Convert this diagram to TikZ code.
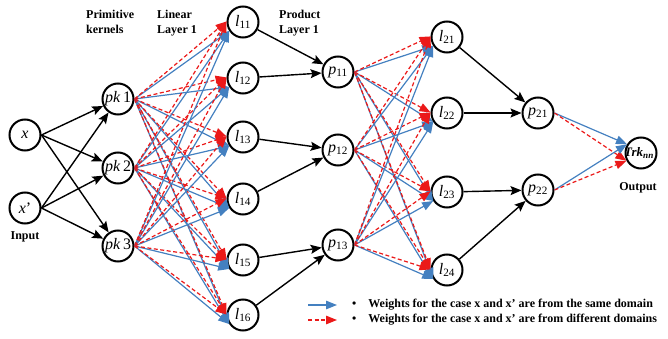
\documentclass[tikz,border=0pt]{standalone}
\usepackage{fontspec}
\setmainfont{Liberation Serif}
\usetikzlibrary{arrows.meta}
\definecolor{wblue}{RGB}{68,128,192}
\definecolor{wred}{RGB}{235,25,25}
\newcommand\nsub[2]{\textit{#1}\textsubscript{\upshape #2}}
\tikzset{
 neuron/.style={circle,draw=black,line width=2pt,minimum size=31pt,inner sep=0pt,font=\fontsize{16}{16}\selectfont},
 blk/.style={-{Stealth[length=11pt,width=9pt,inset=2pt]},line width=1.4pt},
 bw/.style={wblue,-{Triangle[length=11pt,width=8.5pt]},line width=1.2pt},
 rw/.style={wred,dash pattern=on 4pt off 2.5pt,-{Triangle[length=11pt,width=8.5pt]},line width=1.2pt},
 lab/.style={font=\fontsize{12}{15}\selectfont\bfseries,align=left,inner sep=0pt},
 leg/.style={font=\fontsize{12}{14}\selectfont\bfseries,inner sep=0pt}
}
\begin{document}
\begin{tikzpicture}[x=1pt,y=-1pt]
\useasboundingbox (0,0) rectangle (668,339);
% nodes
\node[neuron] (x) at (25,135) {\textit{x}};
\node[neuron] (xp) at (25,208) {\textit{x}'};
\node[neuron] (pk1) at (118,99) {\textit{pk}\,1};
\node[neuron] (pk2) at (118,168) {\textit{pk}\,2};
\node[neuron] (pk3) at (118,246) {\textit{pk}\,3};
\node[neuron] (l11) at (243,22) {\nsub{l}{11}};
\node[neuron] (l12) at (243,78) {\nsub{l}{12}};
\node[neuron] (l13) at (243,137) {\nsub{l}{13}};
\node[neuron] (l14) at (243,199) {\nsub{l}{14}};
\node[neuron] (l15) at (243,260) {\nsub{l}{15}};
\node[neuron] (l16) at (243,315) {\nsub{l}{16}};
\node[neuron] (p11) at (338,72) {\nsub{p}{11}};
\node[neuron] (p12) at (338,150) {\nsub{p}{12}};
\node[neuron] (p13) at (338,245) {\nsub{p}{13}};
\node[neuron] (l21) at (447,37) {\nsub{l}{21}};
\node[neuron] (l22) at (447,113) {\nsub{l}{22}};
\node[neuron] (l23) at (447,192) {\nsub{l}{23}};
\node[neuron] (l24) at (447,270) {\nsub{l}{24}};
\node[neuron] (p21) at (538,113) {\nsub{p}{21}};
\node[neuron] (p22) at (538,190) {\nsub{p}{22}};
\node[neuron] (trk) at (641,153) {};
\node[font=\fontsize{13}{13}\selectfont\bfseries\itshape,inner sep=0pt] (trkt) at (639,153) {Trk\textsubscript{nn}};
% labels
\node[lab,anchor=north west] (t1) at (86,10) {Primitive\\kernels};
\node[lab,anchor=north west] (t2) at (157,10) {Linear\\Layer 1};
\node[lab,anchor=north west] (t3) at (279,10) {Product\\Layer 1};
\node[lab] (tin) at (25,237) {Input};
\node[lab] (tout) at (638,188) {Output};
% input connections
\foreach \s in {x,xp} \foreach \t in {pk1,pk2,pk3} \draw[blk] (\s.east) -- (\t);
% layer 1 weights
\foreach \s in {pk1,pk2,pk3} \foreach \t in {l11,l12,l13,l14,l15,l16} {
  \draw[bw] (\s.east) -- (\t.213);
  \draw[rw] (\s.east) -- (\t.178);
}
% product layer 1
\draw[blk] (l11) -- (p11);
\draw[blk] (l12) -- (p11);
\draw[blk] (l13) -- (p12);
\draw[blk] (l14) -- (p12);
\draw[blk] (l15) -- (p13);
\draw[blk] (l16) -- (p13);
% layer 2 weights
\foreach \s in {p11,p12,p13} \foreach \t in {l21,l22,l23,l24} {
  \draw[bw] (\s.east) -- (\t.213);
  \draw[rw] (\s.east) -- (\t.178);
}
\draw[blk] (l21) -- (p21);
\draw[blk] (l22) -- (p21);
\draw[blk] (l23) -- (p22);
\draw[blk] (l24) -- (p22);
% output
\foreach \s in {p21,p22} {
  \draw[bw] (\s.east) -- (trk.148);
  \draw[rw] (\s.east) -- (trk.208);
}
% legend
\coordinate (lb1) at (308,305); \coordinate (lb2) at (337,305);
\coordinate (lr1) at (308,320); \coordinate (lr2) at (337,320);
\draw[bw] (lb1) -- (lb2);
\draw[rw] (lr1) -- (lr2);
\node[leg,anchor=west] (g1) at (352,305) {\textbullet\hspace{12pt}Weights for the case x and x’ are from the same domain};
\node[leg,anchor=west] (g2) at (352,320) {\textbullet\hspace{12pt}Weights for the case x and x’ are from different domains};
\end{tikzpicture}
\end{document}
